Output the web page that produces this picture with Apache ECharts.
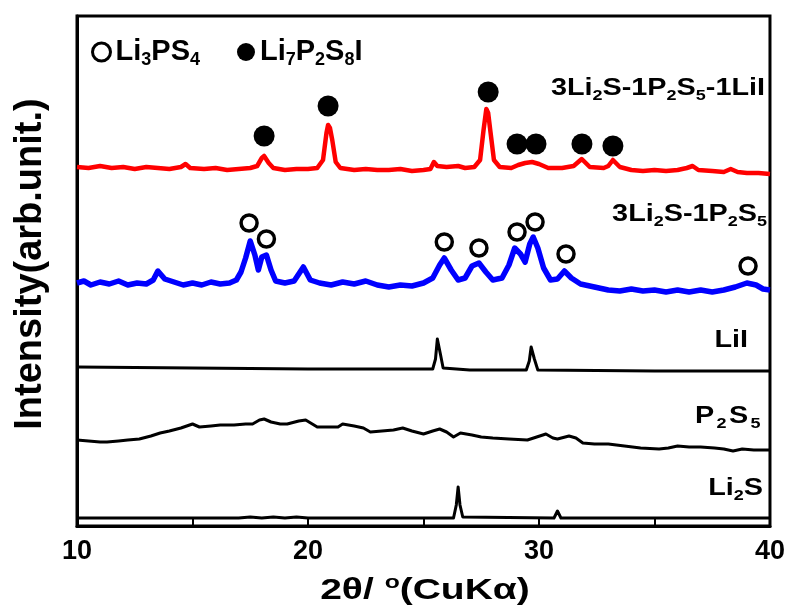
<!DOCTYPE html>
<html>
<head>
<meta charset="utf-8">
<title>XRD patterns</title>
<script src="https://cdn.jsdelivr.net/npm/echarts@6/dist/echarts.min.js"></script>
<style>
  html, body { margin: 0; padding: 0; background: #fff; }
  #chart { width: 788px; height: 612px; }
</style>
</head>
<body>
<div id="chart"></div>
<script>
// XRD patterns [2theta, intensity above own baseline] (arb. units)
const glassCeramicLiI = [
  [10.0, 1], [10.5, 0], [11.0, 2], [11.5, 0], [12.0, 1], [12.5, -1], [13.0, 1], [13.5, 0],
  [14.0, -1], [14.5, 1], [14.7, 4], [14.9, 0], [15.5, -1], [16.0, 0], [16.5, -2], [17.0, -1],
  [17.5, 0], [17.8, 2], [18.0, 10], [18.1, 12], [18.3, 5], [18.5, 0], [19.0, -2], [19.5, -1],
  [20.0, -1], [20.4, 0], [20.65, 8], [20.8, 35], [20.87, 43], [20.95, 40], [21.05, 28], [21.2, 6],
  [21.4, 0], [22.0, -2], [22.5, -1], [23.0, -2], [23.5, -2], [24.0, -1], [24.5, -3], [25.0, -2],
  [25.3, -1], [25.45, 6], [25.6, 2], [26.0, 1], [26.5, 2], [26.8, 0], [27.2, 1], [27.45, 8],
  [27.6, 38], [27.72, 59], [27.8, 55], [27.9, 36], [28.05, 8], [28.3, 1], [28.8, 0], [29.1, 3],
  [29.4, 5], [29.7, 6], [30.0, 4], [30.4, 0], [31.0, 0], [31.5, 2], [31.85, 9], [32.2, 1],
  [32.8, 0], [33.0, 2], [33.2, 8], [33.5, 1], [34.0, -2], [34.5, -3], [35.0, -2], [35.5, -3],
  [36.0, -2], [36.4, 0], [36.65, 2], [36.9, -2], [37.5, -3], [38.0, -4], [38.3, -1], [38.6, -4],
  [39.0, -5], [39.5, -5], [40.0, -6]
]
const glass = [
  [10.0, 0], [10.3, 2], [10.6, -2], [11.0, 1], [11.4, -1], [11.8, 2], [12.2, -2], [12.6, 0],
  [13.0, -1], [13.3, 3], [13.5, 12], [13.8, 4], [14.2, 1], [14.6, -2], [15.0, 0], [15.4, -2],
  [15.8, 1], [16.2, -1], [16.6, 0], [16.9, 3], [17.1, 11], [17.3, 25], [17.5, 42], [17.7, 28],
  [17.85, 13], [18.0, 26], [18.2, 28], [18.4, 13], [18.6, 2], [19.0, 0], [19.4, 2], [19.8, 16],
  [20.1, 3], [20.5, 0], [21.0, -2], [21.5, 1], [22.0, -1], [22.5, 2], [23.0, -2], [23.5, -4],
  [24.0, -2], [24.5, -3], [25.0, 0], [25.4, 5], [25.7, 18], [25.9, 25], [26.2, 13], [26.5, 3],
  [26.8, 5], [27.1, 17], [27.4, 20], [27.7, 11], [28.0, 3], [28.4, 5], [28.7, 18], [28.95, 35],
  [29.2, 29], [29.4, 21], [29.6, 39], [29.75, 46], [29.95, 35], [30.2, 15], [30.5, 3], [30.8, 4],
  [31.1, 12], [31.4, 5], [31.8, -1], [32.2, -3], [32.6, -5], [33.0, -7], [33.5, -8], [34.0, -6],
  [34.5, -8], [35.0, -7], [35.5, -9], [36.0, -7], [36.5, -9], [37.0, -7], [37.5, -9], [38.0, -7],
  [38.5, -4], [39.0, 0], [39.4, -2], [39.7, -6], [40.0, -7]
]
const lii = [
  [10.0, 0], [15.0, -1], [20.0, -2], [25.0, -2], [25.4, -2], [25.52, 8], [25.6, 28], [25.66, 30],
  [25.74, 12], [25.85, -1], [27.0, -3], [29.45, -3], [29.58, 6], [29.66, 20], [29.72, 21],
  [29.8, 8], [29.95, -3], [35.0, -4], [40.0, -4]
]
const p2s5 = [
  [10.0, 0], [10.5, -1], [11.0, -2], [11.3, -2], [11.8, -1], [12.2, 0], [12.7, 1], [13.2, 4],
  [13.6, 7], [14.0, 9], [14.5, 12], [15.0, 16], [15.3, 13], [15.8, 14], [16.2, 15], [16.8, 15],
  [17.3, 16], [17.6, 16], [17.9, 20], [18.1, 21], [18.4, 18], [18.8, 16], [19.1, 16], [19.6, 19],
  [19.9, 20], [20.4, 13], [20.9, 13], [21.3, 13], [21.5, 16], [22.0, 14], [22.4, 12], [22.7, 8],
  [23.2, 9], [23.7, 10], [24.1, 12], [24.5, 9], [25.0, 6], [25.4, 9], [25.7, 11], [26.0, 8],
  [26.3, 3], [26.6, 7], [27.1, 5], [27.5, 3], [28.0, 2], [28.7, 1], [29.5, 0], [29.9, 3],
  [30.3, 6], [30.6, 2], [30.8, 1], [31.3, 4], [31.6, 2], [31.9, -3], [32.4, -4], [33.0, -4],
  [33.7, -6], [34.4, -8], [35.2, -9], [35.6, -8], [36.0, -6], [36.5, -7], [37.0, -7], [37.6, -8],
  [38.0, -9], [38.4, -11], [38.8, -9], [39.3, -10], [39.7, -10], [40.0, -10]
]
const li2s = [
  [10.0, 0], [17.0, 0], [17.5, 1], [18.0, 0], [18.5, 1], [19.0, 0], [19.5, 1], [20.0, 0],
  [26.3, 0], [26.42, 13], [26.5, 31], [26.58, 13], [26.7, 1], [30.65, 0], [30.8, 7], [30.95, 0],
  [40.0, 0]
]

// peak markers [2theta, intensity above the pattern baseline]
const li7p2s8iPeaks = [[18.1, 32], [20.87, 62], [27.8, 76], [29.05, 24], [29.87, 24], [31.86, 24], [33.2, 22]]
const li3ps4Peaks = [[17.45, 60], [18.2, 44], [25.9, 41], [27.4, 35], [29.05, 51], [29.83, 61], [31.17, 29], [39.05, 17]]

// stacking offsets, top to bottom
const patterns = [glassCeramicLiI, glass, lii, p2s5, li2s]
const offsets = [358, 243, 159, 86, 8]
const sampleNames = ['3Li2S-1P2S5-1LiI', '3Li2S-1P2S5', 'LiI', 'P2S5', 'Li2S']
const sampleLabels = ['3Li{s|2}S-1P{s|2}S{s|5}-1LiI', '3Li{s|2}S-1P{s|2}S{s|5}', 'LiI', 'P{p|2}S{p|5}', 'Li{s|2}S']
const lineColors = ['#ff0000', '#0000ff', '#000000', '#000000', '#000000']

const FONT = '"Liberation Sans", Arial, sans-serif'

const chart = echarts.init(document.getElementById('chart'))

let series = []
patterns.forEach((p, i) => {
  series.push({
    type: 'line',
    name: sampleNames[i],
    symbol: 'none',
    z: 2,
    lineStyle: { color: lineColors[i], width: i === 1 ? 5.5 : (i === 0 ? 4.5 : 3), join: 'round' },
    data: p.map(d => [d[0], d[1] + offsets[i]])
  })
})
series.push({
  type: 'scatter',
  name: 'Li3PS4',
  symbol: 'circle',
  symbolSize: 16,
  z: 5,
  itemStyle: { color: '#fff', borderColor: '#000', borderWidth: 3.5, opacity: 1 },
  data: li3ps4Peaks.map(d => [d[0], d[1] + offsets[1]])
})
series.push({
  type: 'scatter',
  name: 'Li7P2S8I',
  symbol: 'circle',
  symbolSize: 21,
  z: 5,
  itemStyle: { color: '#000', opacity: 1 },
  data: li7p2s8iPeaks.map(d => [d[0], d[1] + offsets[0]])
})

const subStyle = { fontSize: 18, fontWeight: 'bold', fontFamily: FONT, verticalAlign: 'bottom', lineHeight: 18 }
const labelSub = { fontSize: 15, fontWeight: 'bold', fontFamily: FONT, verticalAlign: 'bottom', lineHeight: 16 }

// sample names at the right edge: [right edge x, centre y]
const labelAnchors = [[765, 88], [767, 214], [748, 340], [763, 416], [763, 488]]

const option = {
  animation: false,
  backgroundColor: '#fff',
  grid: { left: 77, right: 18, top: 16, bottom: 86, show: true, borderColor: '#000', borderWidth: 3 },
  legend: {
    left: 86,
    top: 30,
    itemWidth: 18,
    itemHeight: 18,
    itemGap: 37,
    data: [
      { name: 'Li3PS4', icon: 'circle', itemStyle: { color: '#fff', borderColor: '#000', borderWidth: 3 } },
      { name: 'Li7P2S8I', icon: 'circle', itemStyle: { color: '#000', borderWidth: 0 } }
    ],
    formatter: name => name === 'Li3PS4' ? 'Li{s|3}PS{s|4}' : 'Li{s|7}P{s|2}S{s|8}I',
    textStyle: {
      fontFamily: FONT, fontSize: 29, fontWeight: 'bold', color: '#000', lineHeight: 34,
      rich: { s: subStyle }
    }
  },
  xAxis: {
    type: 'value',
    min: 10,
    max: 40,
    interval: 5,
    axisLine: { lineStyle: { color: '#000', width: 3 } },
    axisTick: { inside: true, length: 7, lineStyle: { color: '#000', width: 2 } },
    axisLabel: {
      margin: 12,
      fontFamily: FONT, fontSize: 27, fontWeight: 'bold', color: '#000',
      formatter: v => v % 10 === 0 ? String(v) : ''
    },
    splitLine: { show: false }
  },
  yAxis: {
    type: 'value',
    min: 0,
    max: 510,
    name: 'Intensity(arb.unit.)',
    nameLocation: 'middle',
    nameRotate: 90,
    nameGap: 27,
    nameTextStyle: { fontFamily: FONT, fontSize: 38, fontWeight: 'bold', color: '#000', padding: [0, 0, 0, 14] },
    axisLine: { show: true, lineStyle: { color: '#000', width: 3 } },
    axisTick: { show: false },
    axisLabel: { show: false },
    splitLine: { show: false }
  },
  graphic: labelAnchors.map((pos, i) => ({
    type: 'text',
    x: pos[0],
    y: pos[1],
    scaleX: 1.2,
    z: 10,
    style: {
      text: sampleLabels[i],
      fill: '#000',
      fontFamily: FONT,
      fontSize: 24,
      fontWeight: 'bold',
      lineHeight: 30,
      align: 'right',
      verticalAlign: 'middle',
      rich: {
        s: labelSub,
        p: Object.assign({}, labelSub, { padding: [12, 2, 0, 2] })
      }
    }
  })).concat([{
    // x-axis title
    type: 'text',
    x: 425,
    y: 591,
    scaleX: 1.3,
    z: 10,
    style: {
      text: '2θ/ {sup|o}(CuKα)',
      fill: '#000',
      fontFamily: FONT,
      fontSize: 30,
      fontWeight: 'bold',
      lineHeight: 36,
      align: 'center',
      verticalAlign: 'middle',
      rich: { sup: { fontFamily: FONT, fontSize: 19, fontWeight: 'bold', verticalAlign: 'top', lineHeight: 19 } }
    }
  }]),
  series: series
}

chart.setOption(option)
</script>
</body>
</html>
